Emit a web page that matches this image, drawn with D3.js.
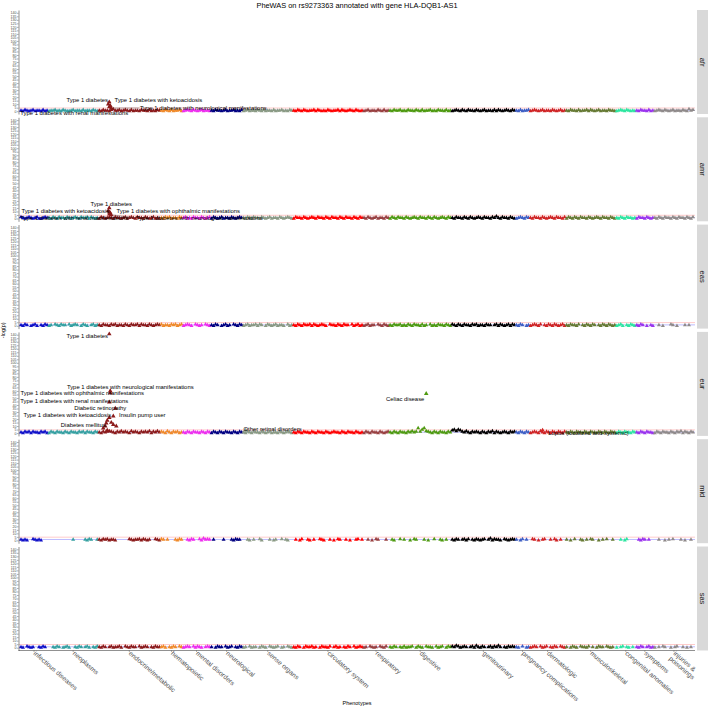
<!DOCTYPE html>
<html>
<head>
<meta charset="utf-8">
<script src="https://cdn.jsdelivr.net/npm/d3@7"></script>
<style>
  body { margin: 0; background: #fff; }
  svg { display: block; font-family: "Liberation Sans", Arial, sans-serif; }
</style>
</head>
<body>
<svg id="chart" width="708" height="708"></svg>
<script>
const title = "PheWAS on rs9273363 annotated with gene HLA-DQB1-AS1";
const ancestries = ["afr", "amr", "eas", "eur", "mid", "sas"];

const categories = ["infectious diseases", "neoplasms", "endocrine/metabolic", "hematopoietic",
  "mental disorders", "neurological", "sense organs", "circulatory system", "respiratory",
  "digestive", "genitourinary", "pregnancy complications", "dermatologic", "musculoskeletal",
  "congenital anomalies", "symptoms", "injuries & poisonings"];
// phenotype slots per category (shared x across facets)
const categorySlots = [14, 25, 31, 11, 14, 16, 25, 35, 13, 31, 32, 7, 18, 25, 10, 9, 20];
const categoryColors = ["#1010C8", "#35A0A0", "#8B1A1A", "#F08A2A", "#EE2EEE", "#000080",
  "#8A9A84", "#FF0000", "#994040", "#4E9A10", "#000000", "#3E5FC4", "#D02424", "#667A33",
  "#2EE6A0", "#9A33EE", "#8F8A8A"];

const yTicks = d3.range(0, 141, 5);
const nominalLine = 1.3;     // p = 0.05
const bonferroniLine = 4.56; // p = 0.05 / n

// background phenotypes: each digit is -log(p) of one phenotype, "." not tested, "|" next category
const bgAfr = "10210120110201|0112010210012011020110210|1021102311201210201102110201021|10210201120|01210210120110|1021101201120102|0120110210201102011201021|10210210112021010210112021012102101|0120110210201|1021120102110210201120102110201|01210210211021012011020210121021|1020112|012101201102101201|1021102011202101201102110|0121021010|102110201|01210210120110210312";
const bgAmr = "21012101200121|1021021102101210211202101|0210121021101201210211021012010|10212011021|12010211021012|0210120110210121|1021021102101201102101210|02110210121021102102110210211021021|1021012011021|0210211021012102110210210121021|10211021021012102110213102110210|0121021|102110210121021102|0210210211021012102110210|1021021101|021102101|10210211021021102102";
const bgEas = "1021.0120.1021|01.210211.20121.0210.1201|1021102120110210211202110210121|20110212012|01210.2101.210|1021.01201.21021|0120112021.0210120110.201|10210211202101210.2110210211.201201|012011.210210|1021120102102110201.20102110210|21021021102120110211.12021012021|1021.01|012102.10210210120|1021102.1021021.102102101|0120.10210|1021.0.10|..1.0...21.0...1.1..";
const bgEur = "10212021102120|0210211021021102120211021|1021232102131210312102121302131|21031021201|10210211021021|0210210211021021|1021021102101201102101210|10210211021021102101211021021102101|0210211021012|1021021102131272573210210211021|45354213102121021021302101210212|1021021|012103102102102102|1021021102102110210210211|0210211021|102102110|02102110210213021021";
const bgMid = "1010..21010...|............1.....1021..1|102120110......21011202101..210|21.1...1021|..1021..203121|.1....1...10211.|..10.1..20...1.01..2.10..|.1.02..10.1..210..1.0.21..1.0..12.1|..1.0.21...1.|.10..2.1..0.21...1.0..2..10.1..|1021.1202.1021012.1302110.210121|1.02.1.|.21.0.12..1.20.1..|1.0.2..10.1.21..0.1.2..1.|..1.02....|.1021.1..|..1..0.1.2...1.0..1.";
const bgSas = "10.2101..1021.|..1021.0120..1021.120.102|1021.1201120.210211.20121.10211|120.1021.21|0121.20210.121|1.0211.2012.1021|01.2011.0210.21012.01.210|1021.0211201.021102.1201.1021.20121|01.2101.2102.|1021.1020112.0210.2110.2012.021|21320121.12031021.1202131.102121|10.2.01|0121.2012.1021.210|1.0210.21102.1.0211.2101.|0.12.10.1.|1021.1201|0.1.21..0.12..1.0.1.";

// notable phenotypes: [ancestry, category index, position within category, -log(p), label]
const hits = [
  ["afr", 2, 4.5, 10, ""],
  ["afr", 2, 5, 13, "Type 1 diabetes"],
  ["afr", 2, 5.5, 8, "Type 1 diabetes with ketoacidosis"],
  ["afr", 2, 5, 6, "Type 1 diabetes with renal manifestations"],
  ["afr", 2, 6, 4.5, "Type 1 diabetes with neurological manifestations"],
  ["amr", 2, 4.5, 11, ""],
  ["amr", 2, 5, 15, "Type 1 diabetes"],
  ["amr", 2, 5, 9, "Type 1 diabetes with ketoacidosis"],
  ["amr", 2, 5.5, 8, "Type 1 diabetes with ophthalmic manifestations"],
  ["amr", 2, 5, 6, "Type 1 diabetes with renal manifestations"],
  ["amr", 2, 6, 5, "Type 1 diabetes with neurological manifestations"],
  ["eur", 2, 4, 18, ""],
  ["eur", 2, 6, 15, ""],
  ["eur", 2, 8.5, 10, ""],
  ["eur", 2, 2, 7, ""],
  ["eur", 2, 4, 4, ""],
  ["eur", 2, 7, 12, ""],
  ["eur", 2, 3.5, 14, ""],
  ["eur", 2, 5, 141, "Type 1 diabetes"],
  ["eur", 2, 5.5, 60, "Type 1 diabetes with neurological manifestations"],
  ["eur", 2, 5.5, 57, "Type 1 diabetes with ophthalmic manifestations"],
  ["eur", 2, 5, 44, "Type 1 diabetes with renal manifestations"],
  ["eur", 2, 8, 35, "Diabetic retinopathy"],
  ["eur", 2, 5, 22, "Type 1 diabetes with ketoacidosis"],
  ["eur", 2, 7, 24, "Insulin pump user"],
  ["eur", 2, 3, 10, "Diabetes mellitus"],
  ["eur", 9, 18, 56, "Celiac disease"],
  ["eur", 6, 1, 4, "Other retinal disorders"],
  ["eur", 12, 6, 4, "Lupus (localized and systemic)"]
];

// ---- layout ----
const W = 708, left = 19, right = 695, top0 = 10, panelH = 104, panelStep = 107.3;
const stripX = 697;
// label centre offset from its point [dx, dy, draw segment]
const labelNudge = {
  "afr|Type 1 diabetes": [-22, -2],
  "afr|Type 1 diabetes with ketoacidosis": [48, -5.5],
  "afr|Type 1 diabetes with renal manifestations": [-35, 6],
  "afr|Type 1 diabetes with neurological manifestations": [92, 0, true],
  "amr|Type 1 diabetes": [2, -4],
  "amr|Type 1 diabetes with ketoacidosis": [-44, -1],
  "amr|Type 1 diabetes with ophthalmic manifestations": [68, -2],
  "amr|Type 1 diabetes with renal manifestations": [-35, 4],
  "amr|Type 1 diabetes with neurological manifestations": [88, 3, true],
  "eur|Type 1 diabetes": [-22, 2],
  "eur|Type 1 diabetes with neurological manifestations": [20, -4],
  "eur|Type 1 diabetes with ophthalmic manifestations": [-28, 0],
  "eur|Type 1 diabetes with renal manifestations": [-35, -1],
  "eur|Diabetic retinopathy": [-15, 0],
  "eur|Type 1 diabetes with ketoacidosis": [-42, -3],
  "eur|Insulin pump user": [29, -1],
  "eur|Diabetes mellitus": [-22, -1],
  "eur|Celiac disease": [-21, 5],
  "eur|Other retinal disorders": [27, -1],
  "eur|Lupus (localized and systemic)": [46, 3]
};

const bgByAncestry = { afr: bgAfr, amr: bgAmr, eas: bgEas, eur: bgEur, mid: bgMid, sas: bgSas };
const starts = Array.from(d3.cumsum([0, ...categorySlots]));
const nSlots = d3.sum(categorySlots);

const x = d3.scaleLinear().domain([-1, nSlots]).range([left, right]);
const y = d3.scaleLinear().domain([-4, 144]).range([panelH, 0]);
const color = d3.scaleOrdinal().domain(d3.range(categories.length)).range(categoryColors);
const tri = d3.symbol(d3.symbolTriangle, 7);
const triBig = d3.symbol(d3.symbolTriangle, 9);

function parseBg(str) {
  let pts = [];
  str.split("|").forEach((seg, ci) => {
    [...seg].forEach((ch, i) => {
      if (ch === ".") return;
      pts.push({ cat: ci, slot: starts[ci] + i, logp: +ch });
    });
  });
  return pts;
}

const svg = d3.select("#chart");

svg.append("text")
  .attr("x", 357).attr("y", 7.5)
  .attr("text-anchor", "middle")
  .attr("font-size", 7.4)
  .attr("fill", "#000")
  .text(title);

ancestries.forEach((pop, pi) => {
  let top = top0 + pi * panelStep;
  let g = svg.append("g").attr("transform", `translate(0,${top})`);

  // strip
  g.append("rect").attr("x", stripX).attr("y", 0).attr("width", W - stripX + 2).attr("height", panelH)
    .attr("fill", "#D9D9D9");
  g.append("text")
    .attr("transform", `translate(${stripX + 5},${panelH / 2}) rotate(90)`)
    .attr("text-anchor", "middle").attr("dominant-baseline", "central")
    .attr("font-size", 7.5).attr("fill", "#1A1A1A")
    .text(pop);

  // threshold lines
  g.append("line").attr("x1", left).attr("x2", right)
    .attr("y1", y(nominalLine)).attr("y2", y(nominalLine))
    .attr("stroke", "#3030FF").attr("stroke-opacity", 0.55).attr("stroke-width", 0.6);
  g.append("line").attr("x1", left).attr("x2", right)
    .attr("y1", y(bonferroniLine)).attr("y2", y(bonferroniLine))
    .attr("stroke", "#FF2020").attr("stroke-opacity", 0.4).attr("stroke-width", 0.6);

  // background phenotypes
  g.append("g").selectAll("path")
    .data(parseBg(bgByAncestry[pop]))
    .join("path")
    .attr("d", tri)
    .attr("transform", d => `translate(${x(d.slot)},${y(d.logp)})`)
    .attr("fill", d => color(d.cat));

  // notable phenotypes
  let mine = hits.filter(h => h[0] === pop).map(h => ({
    cat: h[1], slot: starts[h[1]] + h[2], logp: h[3], label: h[4]
  }));
  g.append("g").selectAll("path")
    .data(mine)
    .join("path")
    .attr("d", triBig)
    .attr("transform", d => `translate(${x(d.slot)},${y(d.logp)})`)
    .attr("fill", d => color(d.cat));

  let labelled = mine.filter(d => d.label);
  labelled.forEach(d => {
    let nudge = labelNudge[pop + "|" + d.label] || [0, -5];
    let px = x(d.slot), py = y(d.logp);
    let t = g.append("text")
      .attr("x", px + nudge[0]).attr("y", py + nudge[1])
      .attr("text-anchor", "middle").attr("dominant-baseline", "central")
      .attr("font-size", 5.9).attr("fill", "#000")
      .text(d.label);
    if (nudge[2]) {
      let w = t.node().getComputedTextLength();
      let ex = nudge[0] > 0 ? px + nudge[0] - w / 2 - 0.5 : px + nudge[0] + w / 2 + 0.5;
      g.append("line").attr("x1", px + 1.5).attr("y1", py).attr("x2", ex).attr("y2", py + nudge[1])
        .attr("stroke", "#333").attr("stroke-width", 0.4);
    }
  });

  // y axis
  let ax = g.append("g").attr("transform", `translate(${left - 0.5},0)`)
    .call(d3.axisLeft(y).tickValues(yTicks).tickSize(1.5).tickSizeOuter(0).tickPadding(0.5));
  ax.select(".domain").attr("stroke", "#222").attr("stroke-width", 0.5);
  ax.selectAll(".tick line").attr("stroke", "#333").attr("stroke-width", 0.4);
  ax.selectAll(".tick text").attr("font-size", 3.6).attr("fill", "#4D4D4D")
    .attr("font-family", "Liberation Sans, Arial, sans-serif");
});

// x axis on the bottom panel
const bottom = top0 + 5 * panelStep + panelH;
const xg = svg.append("g");
xg.append("line").attr("x1", left - 0.5).attr("x2", right).attr("y1", bottom).attr("y2", bottom)
  .attr("stroke", "#222").attr("stroke-width", 0.5);
categories.forEach((c, i) => {
  let cx = x(starts[i] + (categorySlots[i] - 1) / 2);
  xg.append("line").attr("x1", cx).attr("x2", cx).attr("y1", bottom).attr("y2", bottom + 1.5)
    .attr("stroke", "#333").attr("stroke-width", 0.4);
  let t = xg.append("text")
    .attr("transform", `translate(${cx - 1},${bottom + 3.5}) rotate(41)`)
    .attr("font-size", 6.6).attr("fill", "#4D4D4D")
    .attr("dy", "0.35em");
  let lines = c === "injuries & poisonings" ? ["injuries &", "poisonings"] : [c];
  lines.forEach((ln, k) => {
    t.append("tspan").attr("x", 0).attr("dy", k ? "1.05em" : 0).text(ln);
  });
});

svg.append("text")
  .attr("x", 357).attr("y", 705)
  .attr("text-anchor", "middle")
  .attr("font-size", 5.5).attr("fill", "#000")
  .text("Phenotypes");

svg.append("text")
  .attr("transform", `translate(5,${(top0 + bottom) / 2}) rotate(-90)`)
  .attr("text-anchor", "middle")
  .attr("font-size", 5.5).attr("fill", "#000")
  .text("-log(p)");
</script>
</body>
</html>
